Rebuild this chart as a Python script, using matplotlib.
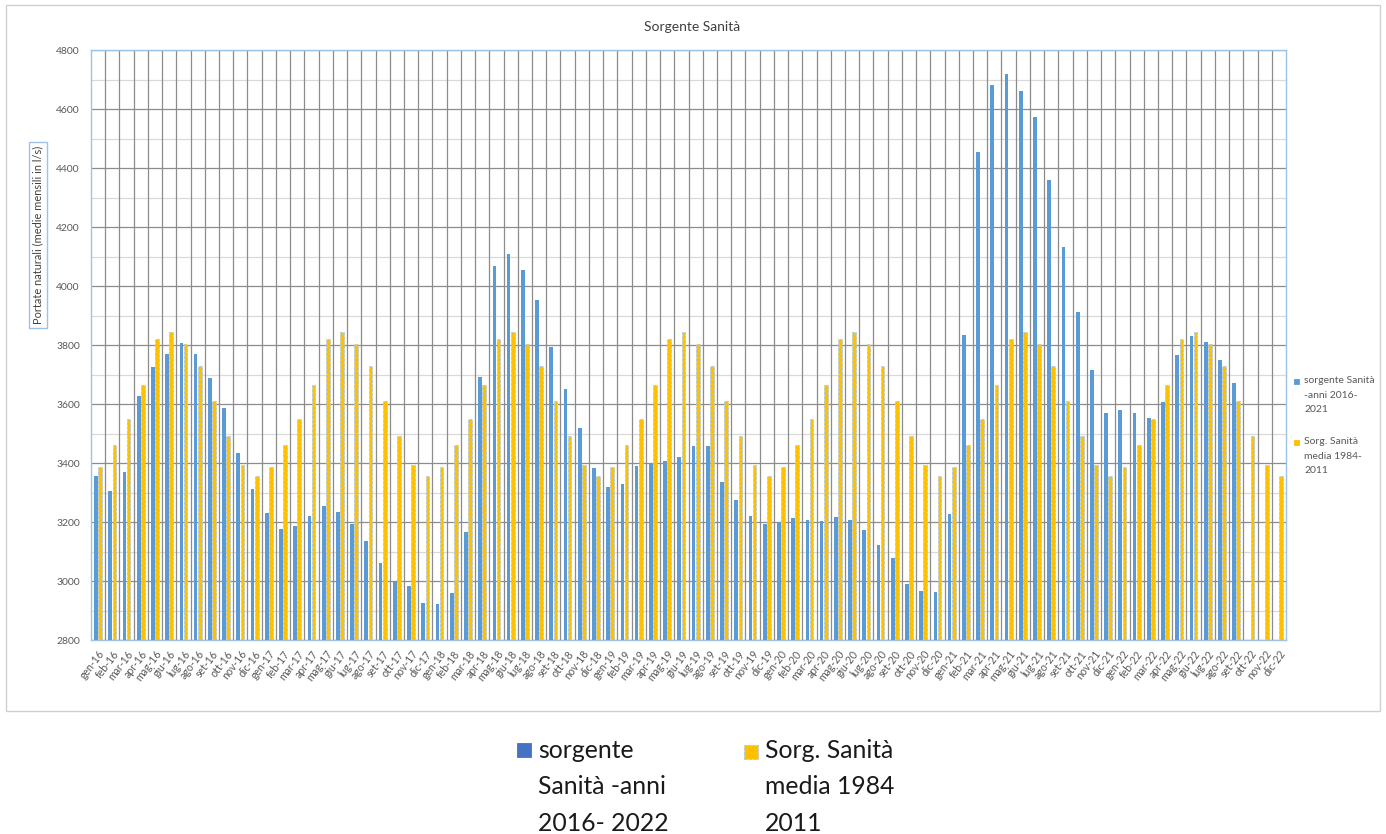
import numpy as np
import matplotlib
matplotlib.use("Agg")
import matplotlib.pyplot as plt
from matplotlib.patches import Rectangle

plt.rcParams['font.family'] = ['Lato', 'DejaVu Sans']

months = ["gen", "feb", "mar", "apr", "mag", "giu", "lug", "ago", "set", "ott", "nov", "dic"]
years = ["16", "17", "18", "19", "20", "21", "22"]
categories = [f"{m}-{y}" for y in years for m in months]

blue_2016 = [3357, 3305, 3370, 3628, 3724, 3769, 3806, 3769, 3687, 3587, 3433, 3311]
blue_2017 = [3230, 3175, 3187, 3220, 3255, 3235, 3193, 3137, 3060, 3000, 2982, 2925]
blue_2018 = [2923, 2960, 3166, 3692, 4068, 4110, 4054, 3952, 3792, 3652, 3518, 3382]
blue_2019 = [3318, 3330, 3390, 3400, 3408, 3420, 3457, 3457, 3337, 3275, 3220, 3192]
blue_2020 = [3200, 3213, 3208, 3205, 3217, 3207, 3172, 3122, 3078, 2990, 2966, 2962]
blue_2021 = [3227, 3833, 4455, 4683, 4718, 4660, 4573, 4358, 4133, 3912, 3714, 3570]
blue_2022 = [3578, 3568, 3552, 3608, 3766, 3830, 3810, 3748, 3670, np.nan, np.nan, np.nan]
sorgente = blue_2016 + blue_2017 + blue_2018 + blue_2019 + blue_2020 + blue_2021 + blue_2022

media_1984_2011 = [3385, 3460, 3548, 3665, 3822, 3845, 3804, 3730, 3610, 3493, 3393, 3355]
media = media_1984_2011 * len(years)

yticks = list(range(2800, 4801, 200))

W, H = 1386, 834
fig = plt.figure(figsize=(W / 100, H / 100), dpi=100)

# outer chart frame
fig.patches.append(Rectangle((6 / W, 1 - 711 / H), (1380 - 6) / W, (711 - 5) / H,
                             transform=fig.transFigure, fill=False,
                             edgecolor='#d0d0d0', linewidth=1.0))

ax = fig.add_axes([91 / W, 1 - 640 / H, (1286 - 91) / W, (640 - 50) / H])
x = np.arange(len(categories))
bw = 0.26
ax.bar(x - 0.145, sorgente, width=bw, color='#5b9bd5', zorder=3)
ax.bar(x + 0.145, media, width=bw, color='#ffc000', edgecolor='#a9c8e8',
       linestyle='--', linewidth=0.6, zorder=3)

ax.set_ylim(2800, 4800)
ax.set_xlim(-0.5, len(categories) - 0.5)
ax.set_yticks(yticks)
ax.set_yticks(range(2900, 4800, 200), minor=True)
ax.set_xticks(x)
ax.set_xticklabels(categories, rotation=53, ha='right', rotation_mode='anchor',
                   fontsize=7.6, color='#595959')
ax.tick_params(axis='y', labelsize=7.5, labelcolor='#595959', length=0, pad=8)
ax.tick_params(axis='y', which='minor', length=0)
ax.tick_params(axis='x', length=0, pad=6)
ax.grid(axis='y', which='major', color='#8c8c8c', linewidth=0.9, zorder=0)
ax.grid(axis='y', which='minor', color='#d9d9d9', linewidth=0.9, zorder=0)
for b in np.arange(0.5, len(categories) - 1, 1.0):
    ax.axvline(b, color='#8c8c8c', linewidth=0.9, zorder=1)
ax.set_axisbelow(True)
for s in ax.spines.values():
    s.set_color('#9dc3e6')
    s.set_linewidth(1.0)

fig.text(692 / W, 1 - 27 / H, "Sorgente Sanità", ha='center', va='center',
         fontsize=10, color='#404040')

fig.text(38 / W, 1 - 235 / H, "Portate naturali (medie mensili in l/s)", rotation=90,
         ha='center', va='center', fontsize=7.9, color='#404040',
         bbox=dict(boxstyle='square,pad=0.35', facecolor='white', edgecolor='#9dc3e6',
                   linewidth=1.0))

# right legend
def sq(px, py, s, fc, ec=None, ls='-'):
    fig.patches.append(Rectangle((px / W, 1 - (py + s) / H), s / W, s / H,
                                 transform=fig.transFigure, facecolor=fc,
                                 edgecolor=ec if ec else fc, linestyle=ls,
                                 linewidth=0.6))

sq(1294, 379, 5, '#5b9bd5')
fig.text(1304 / W, 1 - 376 / H, "sorgente Sanità\n-anni 2016-\n2021", ha='left', va='top',
         fontsize=7.5, color='#595959', linespacing=1.8)
sq(1294, 440, 5, '#ffc000')
fig.text(1304 / W, 1 - 437 / H, "Sorg. Sanità\nmedia 1984-\n2011", ha='left', va='top',
         fontsize=7.5, color='#595959', linespacing=1.8)

# bottom legend
sq(517, 743, 14, '#4472c4')
fig.text(538 / W, 1 - 739 / H, "sorgente\nSanità -anni\n2016- 2022", ha='left', va='top',
         fontsize=17.8, color='#1a1a1a', linespacing=1.7)
sq(744, 745, 14, '#ffc000', ec='#a9c8e8', ls='--')
fig.text(765 / W, 1 - 739 / H, "Sorg. Sanità\nmedia 1984\n2011", ha='left', va='top',
         fontsize=17.8, color='#1a1a1a', linespacing=1.7)

fig.savefig("out.png", dpi=100)
